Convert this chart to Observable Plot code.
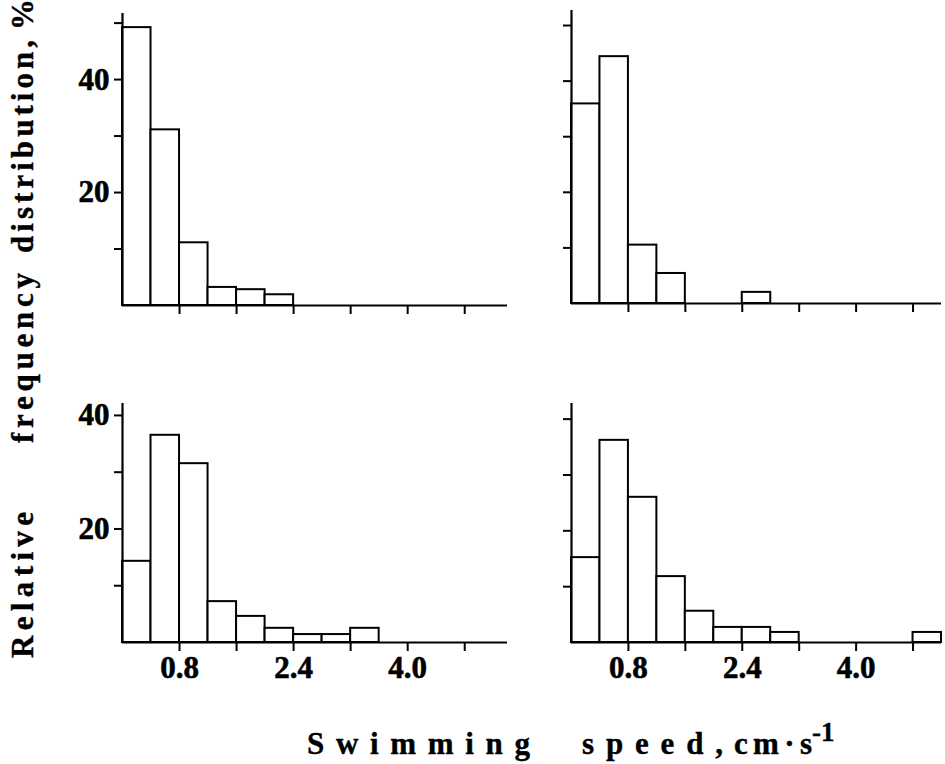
<!DOCTYPE html>
<html><head><meta charset="utf-8">
<script src="https://cdn.jsdelivr.net/npm/d3@7"></script>
<script src="https://cdn.jsdelivr.net/npm/@observablehq/plot@0.6"></script>
<style>
body{margin:0;background:#fff;}
#wrap{position:relative;width:945px;height:764px;overflow:hidden;background:#fff;}
#wrap > svg{position:absolute;}
#wrap svg text{font-family:"Liberation Serif";font-weight:700;}
</style></head><body><div id="wrap"></div>
<script>
// ---- data ----
const binEdges = [0, 0.4, 0.8, 1.2, 1.6, 2.0, 2.4, 2.8, 3.2, 3.6, 4.0, 4.4, 4.8, 5.2];
const topLeftValues = [49.2, 31.1, 11.1, 3.2, 2.8, 1.9];
const topRightValues = [35.9, 44.4, 10.5, 5.4, 0, 0, 2.0];
const bottomLeftValues = [14.3, 36.5, 31.5, 7.2, 4.6, 2.5, 1.4, 1.4, 2.5];
const bottomRightValues = [15.2, 36.2, 26.0, 11.8, 5.6, 2.7, 2.7, 1.8, 0, 0, 0, 0, 1.8];
const xTicks = [0.8, 1.6, 2.4, 3.2, 4.0, 4.8];
const xTickLabels = [0.8, 2.4, 4.0];
const yTicks = [10, 20, 30, 40, 50];
const yTickLabels = [20, 40];
const yTitleWords = ["Relative", "frequency", "distribution,", "%"];
const xTitleWords = ["Swimming", "speed,", "cm·s"];
const xTitleSup = "-1";

// ---- layout ----
const FONT = "Liberation Serif";
const wrap = document.getElementById("wrap");

function panel(values, o) {
  const data = values.map((v, i) => ({x1: binEdges[i], x2: binEdges[i + 1], y: v})).filter(d => d.y > 0);
  const p = Plot.plot({
    width: o.width, height: o.height,
    marginTop: o.mt, marginBottom: o.mb, marginLeft: o.ml, marginRight: o.mr,
    x: {domain: [0, o.xMax]},
    y: {domain: [0, o.yMax]},
    style: {fontFamily: FONT, fontSize: "31px", fontWeight: "bold", background: "transparent", color: "black", overflow: "visible"},
    marks: [
      Plot.rectY(data, {x1: "x1", x2: "x2", y: "y", fill: "white", stroke: "black", strokeWidth: 2}),
      Plot.ruleX([0], {stroke: "black", strokeWidth: 2.2}),
      Plot.ruleY([0], {stroke: "black", strokeWidth: 2.2}),
      Plot.axisX({ticks: xTicks, tickSize: 9, tickPadding: 4, strokeWidth: 2, strokeOpacity: 1,
        tickFormat: d => (o.showX && xTickLabels.includes(d)) ? d.toFixed(1) : "", label: null}),
      Plot.axisY({ticks: yTicks.filter(t => t <= o.yMax), tickSize: 8, tickPadding: 5, strokeWidth: 2, strokeOpacity: 1,
        tickFormat: d => (o.showY && yTickLabels.includes(d)) ? String(d) : "", label: null})
    ]
  });
  d3.select(p).selectAll("text").style("font-size", "31px").style("font-family", FONT).style("font-weight", "700")
    .style("stroke", "black").style("stroke-width", "0.6px");
  p.style.left = o.left + "px";
  p.style.top = o.top + "px";
  wrap.appendChild(p);
}

panel(topLeftValues,     {left: 0,   top: 0,   width: 520, height: 330, ml: 122, mr: 13, mt: 13, mb: 25, xMax: 5.4, yMax: 51.7, showX: false, showY: true});
panel(topRightValues,    {left: 520, top: 0,   width: 425, height: 330, ml: 51,  mr: 4,  mt: 10, mb: 27, xMax: 5.2, yMax: 52.7, showX: false, showY: false});
panel(bottomLeftValues,  {left: 0,   top: 380, width: 520, height: 320, ml: 122, mr: 13, mt: 23, mb: 58, xMax: 5.4, yMax: 42.1, showX: true,  showY: true});
panel(bottomRightValues, {left: 520, top: 380, width: 425, height: 320, ml: 51,  mr: 4,  mt: 23, mb: 58, xMax: 5.2, yMax: 42.8, showX: true,  showY: false});

// ---- titles ----
const ov = d3.create("svg").attr("width", 945).attr("height", 764)
  .style("left", "0px").style("top", "0px").style("pointer-events", "none")
  .attr("fill", "black").attr("stroke", "black").attr("stroke-width", 0.4).style("font-size", "31px");

const yWordLayout = [{y: 658, len: 146}, {y: 443, len: 170}, {y: 253, len: 213}, {y: 30, len: 0}];
yTitleWords.forEach((w, i) => {
  const L = yWordLayout[i];
  const t = ov.append("text").attr("transform", `translate(33,${L.y}) rotate(-90)`).text(w);
  if (L.len) t.attr("textLength", L.len).attr("lengthAdjust", "spacing");
});

const xWordLayout = [{x: 307, len: 223}, {x: 582, len: 141}, {x: 734, len: 78}];
xTitleWords.forEach((w, i) => {
  const L = xWordLayout[i];
  ov.append("text").attr("x", L.x).attr("y", 754).attr("textLength", L.len).attr("lengthAdjust", "spacing").text(w);
});
ov.append("text").attr("x", 812).attr("y", 741).style("font-size", "27px").text(xTitleSup);

wrap.appendChild(ov.node());
</script>
</body></html>
